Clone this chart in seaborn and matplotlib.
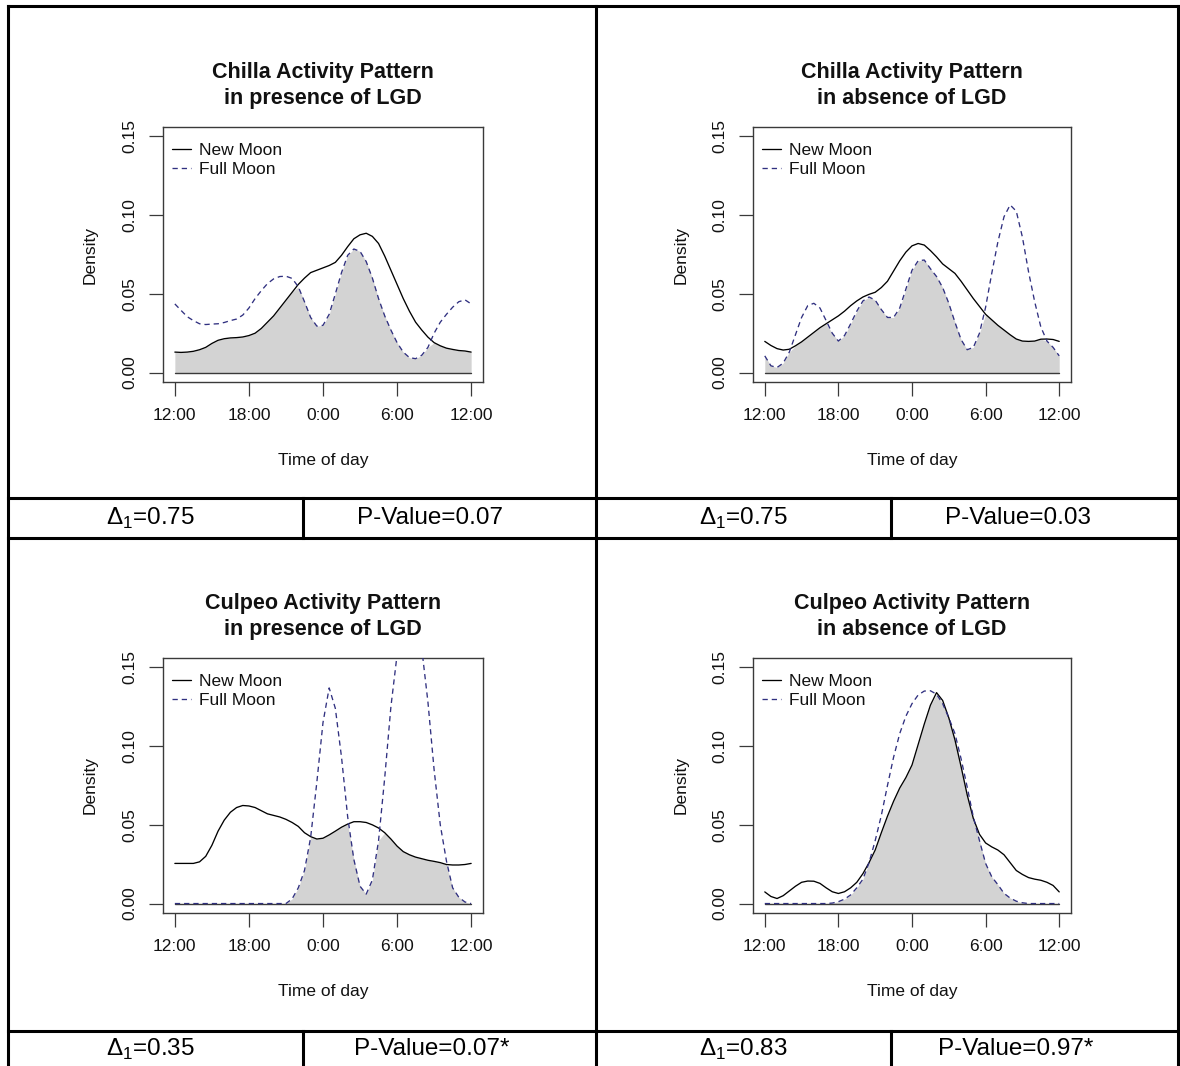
import numpy as np
import pandas as pd
import matplotlib
matplotlib.use("Agg")
import matplotlib.pyplot as plt
from matplotlib.lines import Line2D
import seaborn as sns

# ---------------- data ----------------
HOURS = np.arange(0, 24.01, 0.5)  # hours after 12:00 noon
XTICKS = [0, 6, 12, 18, 24]
XTICK_LABELS = ["12:00", "18:00", "0:00", "6:00", "12:00"]
YTICKS = [0.0, 0.05, 0.10, 0.15]
YTICK_LABELS = ["0.00", "0.05", "0.10", "0.15"]
SERIES = ["New Moon", "Full Moon"]

chilla_presence_new = [0.013, 0.0128, 0.013, 0.0135, 0.0145, 0.016, 0.0185, 0.0205, 0.0215, 0.022,
                       0.0222, 0.0226, 0.0235, 0.025, 0.028, 0.032, 0.036, 0.041, 0.046, 0.051,
                       0.056, 0.060, 0.0635, 0.065, 0.0665, 0.068, 0.070, 0.0745, 0.080, 0.085,
                       0.0875, 0.0885, 0.0865, 0.082, 0.074, 0.065, 0.056, 0.047, 0.039, 0.032,
                       0.027, 0.0225, 0.019, 0.017, 0.0155, 0.0147, 0.014, 0.0137, 0.013]
chilla_presence_full = [0.0436, 0.0395, 0.0355, 0.033, 0.031, 0.0305, 0.0308, 0.031, 0.0318, 0.033,
                        0.034, 0.0365, 0.041, 0.047, 0.052, 0.0565, 0.0595, 0.061, 0.0612, 0.0598,
                        0.0545, 0.045, 0.035, 0.0295, 0.030, 0.037, 0.050, 0.0635, 0.0745, 0.0785,
                        0.077, 0.0705, 0.060, 0.047, 0.036, 0.027, 0.019, 0.013, 0.0095, 0.0088,
                        0.011, 0.016, 0.025, 0.032, 0.037, 0.0415, 0.045, 0.0462, 0.0436]

chilla_absence_new = [0.0198, 0.0172, 0.0152, 0.0143, 0.0148, 0.017, 0.0195, 0.0225, 0.0255, 0.0285,
                      0.031, 0.0335, 0.036, 0.039, 0.0425, 0.0455, 0.048, 0.0497, 0.051, 0.054,
                      0.058, 0.0645, 0.071, 0.0765, 0.0805, 0.082, 0.081, 0.0775, 0.0735, 0.069,
                      0.066, 0.063, 0.058, 0.0525, 0.047, 0.042, 0.037, 0.0335, 0.030, 0.027,
                      0.024, 0.0213, 0.0200, 0.0198, 0.020, 0.0212, 0.0213, 0.021, 0.0198]
chilla_absence_full = [0.0106, 0.0043, 0.0032, 0.006, 0.013, 0.024, 0.035, 0.0425, 0.044, 0.041,
                       0.033, 0.025, 0.020, 0.0235, 0.031, 0.039, 0.0455, 0.048, 0.046, 0.040,
                       0.035, 0.035, 0.041, 0.053, 0.065, 0.071, 0.0715, 0.066, 0.061, 0.054,
                       0.044, 0.032, 0.021, 0.0145, 0.016, 0.025, 0.0415, 0.063, 0.083, 0.099,
                       0.1065, 0.1025, 0.086, 0.064, 0.045, 0.029, 0.020, 0.016, 0.0106]

culpeo_presence_new = [0.0255, 0.0255, 0.0255, 0.0255, 0.0265, 0.030, 0.037, 0.046, 0.053, 0.058,
                       0.061, 0.0623, 0.062, 0.061, 0.059, 0.057, 0.056, 0.055, 0.0535, 0.0515,
                       0.049, 0.045, 0.0425, 0.041, 0.0415, 0.0436, 0.046, 0.0485, 0.0505, 0.052,
                       0.052, 0.0515, 0.050, 0.048, 0.045, 0.041, 0.0365, 0.033, 0.031, 0.0295,
                       0.0285, 0.0275, 0.0268, 0.026, 0.0248, 0.0245, 0.0245, 0.0248, 0.0255]
culpeo_presence_full = [0.0, 0.0, 0.0, 0.0, 0.0, 0.0, 0.0, 0.0, 0.0, 0.0,
                        0.0, 0.0, 0.0, 0.0, 0.0, 0.0, 0.0, 0.0, 0.0, 0.003,
                        0.010, 0.021, 0.042, 0.077, 0.115, 0.137, 0.124, 0.093, 0.055, 0.028,
                        0.011, 0.006, 0.015, 0.040, 0.080, 0.125, 0.158, 0.195, 0.212, 0.200,
                        0.162, 0.128, 0.085, 0.050, 0.027, 0.010, 0.004, 0.001, 0.0]

culpeo_absence_new = [0.0074, 0.0045, 0.0032, 0.005, 0.008, 0.011, 0.0135, 0.0143, 0.0142, 0.0128,
                      0.010, 0.0075, 0.0064, 0.0075, 0.010, 0.0135, 0.019, 0.026, 0.034, 0.045,
                      0.0555, 0.065, 0.0734, 0.080, 0.088, 0.101, 0.114, 0.126, 0.134, 0.129,
                      0.118, 0.104, 0.087, 0.069, 0.054, 0.044, 0.0385, 0.036, 0.034, 0.031,
                      0.026, 0.021, 0.0185, 0.0165, 0.0155, 0.0148, 0.0135, 0.0115, 0.0074]
culpeo_absence_full = [0.0, 0.0, 0.0, 0.0, 0.0, 0.0, 0.0, 0.0, 0.0, 0.0,
                       0.0, 0.0003, 0.0012, 0.0028, 0.0055, 0.010, 0.0155, 0.026, 0.040, 0.056,
                       0.075, 0.093, 0.108, 0.119, 0.127, 0.1325, 0.135, 0.1352, 0.133, 0.127,
                       0.118, 0.108, 0.092, 0.074, 0.055, 0.040, 0.0255, 0.017, 0.012, 0.0065,
                       0.0035, 0.0015, 0.0005, 0.0, 0.0, 0.0, 0.0, 0.0, 0.0]

TITLES = [("Chilla Activity Pattern", "in presence of LGD"),
          ("Chilla Activity Pattern", "in absence of LGD"),
          ("Culpeo Activity Pattern", "in presence of LGD"),
          ("Culpeo Activity Pattern", "in absence of LGD")]
DELTAS = ["0.75", "0.75", "0.35", "0.83"]
PVALUES = ["0.07", "0.03", "0.07*", "0.97*"]

# ---------------- style ----------------
sns.set_style("white")
plt.rcParams["font.family"] = ["Liberation Sans", "DejaVu Sans"]
plt.rcParams["mathtext.fontset"] = "custom"
plt.rcParams["mathtext.rm"] = "Liberation Sans"

W, H = 1180, 1066
fig = plt.figure(figsize=(W / 100, H / 100), dpi=100)
fig.patch.set_facecolor("white")

BLUE = "#303080"
FILL = "#D3D3D3"
FRAME = "#3a3a3a"
FS = 12.5

# axes boxes in pixels: left, top, width, height
BOXES = [(163, 127, 320, 255), (753, 127, 318, 255),
         (163, 658, 320, 255), (753, 658, 318, 255)]
DATA = [(chilla_presence_new, chilla_presence_full),
        (chilla_absence_new, chilla_absence_full),
        (culpeo_presence_new, culpeo_presence_full),
        (culpeo_absence_new, culpeo_absence_full)]


def px_axes(l, t, w, h):
    return fig.add_axes([l / W, 1 - (t + h) / H, w / W, h / H])


for (l, t, w, h), (new, full), (t1, t2) in zip(BOXES, DATA, TITLES):
    ax = px_axes(l, t, w, h)
    new = np.asarray(new)
    full = np.asarray(full)
    df = pd.DataFrame({
        "hour": np.concatenate([HOURS, HOURS]),
        "density": np.concatenate([new, full]),
        "phase": [SERIES[0]] * len(HOURS) + [SERIES[1]] * len(HOURS),
    })
    ax.fill_between(HOURS, 0, np.minimum(new, full), color=FILL, lw=0, zorder=1)
    sns.lineplot(data=df, x="hour", y="density", hue="phase", style="phase",
                 palette={SERIES[0]: "black", SERIES[1]: BLUE},
                 dashes={SERIES[0]: "", SERIES[1]: (4, 3)},
                 linewidth=0.95, errorbar=None, legend=False, ax=ax, zorder=3)
    handles = list(ax.lines[:2])
    ax.plot([HOURS[0], HOURS[-1]], [0, 0], color=FRAME, lw=1.0, zorder=2)

    ax.set_xlim(-0.96, 24.96)
    ax.set_ylim(-0.006, 0.156)
    ax.set_xticks(XTICKS)
    ax.set_xticklabels(XTICK_LABELS)
    ax.set_yticks(YTICKS)
    ax.set_yticklabels(YTICK_LABELS, rotation=90, va="center")
    ax.tick_params(axis="both", direction="out", length=10, width=0.9,
                   color=FRAME, labelsize=FS, labelcolor="#111111", pad=8.5)
    ax.tick_params(axis="x", bottom=True)
    ax.tick_params(axis="y", left=True)
    for s in ax.spines.values():
        s.set_color(FRAME)
        s.set_linewidth(1.0)
        s.set_visible(True)

    ax.set_xlabel("Time of day", fontsize=FS, color="#111111")
    ax.set_ylabel("Density", fontsize=FS, color="#111111")
    ax.xaxis.set_label_coords(0.5, -(453 - 382) / 255)
    ax.yaxis.set_label_coords(-(163 - 98) / 320, 0.5)

    ax.text(0.5, (382 - 72.5) / 255, t1, transform=ax.transAxes, ha="center",
            va="center", fontsize=15.5, fontweight="bold", color="#111111")
    ax.text(0.5, (382 - 98.5) / 255, t2, transform=ax.transAxes, ha="center",
            va="center", fontsize=15.5, fontweight="bold", color="#111111")

    ax.legend(handles=handles, labels=SERIES, loc="upper left",
              bbox_to_anchor=(-7 / w, 1.0), frameon=False, fontsize=FS,
              handlelength=1.1, handletextpad=0.5, labelspacing=0.22,
              borderaxespad=0.0, borderpad=0.9, labelcolor="#111111")

# ---------------- table lines ----------------
LW = 2.2


def hline(y, x0, x1):
    fig.add_artist(Line2D([x0 / W, x1 / W], [1 - y / H, 1 - y / H],
                          transform=fig.transFigure, color="black", lw=LW,
                          solid_capstyle="projecting"))


def vline(x, y0, y1):
    fig.add_artist(Line2D([x / W, x / W], [1 - y0 / H, 1 - y1 / H],
                          transform=fig.transFigure, color="black", lw=LW,
                          solid_capstyle="projecting"))


hline(6, 8, 1178)
hline(498, 8, 1178)
hline(538, 8, 1178)
hline(1031, 8, 1178)
vline(8, 6, 1068)
vline(1178, 6, 1068)
vline(596, 6, 1068)
for y0, y1 in [(498, 538), (1031, 1068)]:
    vline(303, y0, y1)
    vline(891, y0, y1)

# ---------------- statistics text ----------------
STAT_POS = [(150, 430, 518), (743, 1018, 518), (150, 432, 1049), (743, 1016, 1049)]
for (xd, xp, yc), d, p in zip(STAT_POS, DELTAS, PVALUES):
    fig.text(xd / W, 1 - yc / H, r"Δ$_\mathregular{1}$=" + d, ha="center",
             va="center", fontsize=17.5, color="black")
    fig.text(xp / W, 1 - yc / H, "P-Value=" + p, ha="center", va="center",
             fontsize=17.5, color="black")

fig.savefig("out.png", dpi=100, facecolor="white")
